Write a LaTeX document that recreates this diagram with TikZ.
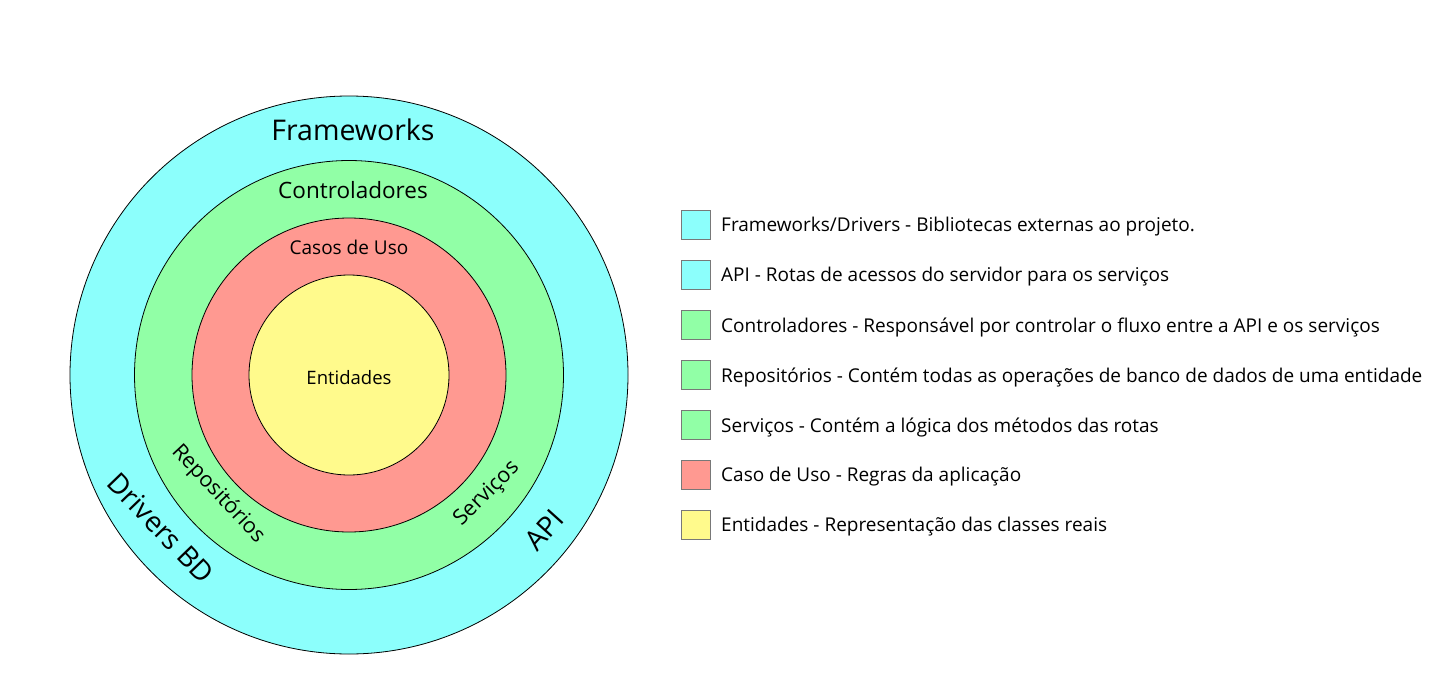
\documentclass[tikz,border=0pt]{standalone}
\usepackage{fontspec}
\setmainfont{Open Sans}
\definecolor{ccyan}{RGB}{140,255,252}
\definecolor{cgreen}{RGB}{145,255,166}
\definecolor{cred}{RGB}{255,153,145}
\definecolor{cyell}{RGB}{255,250,140}
\definecolor{cgray}{RGB}{120,120,120}
\tikzset{
  ring/.style={circle, draw=black, line width=0.8pt, inner sep=0pt},
  lbox/.style={draw=cgray, line width=1pt, minimum size=29pt, inner sep=0pt},
  ltext/.style={anchor=west, inner sep=0pt, font=\fontsize{19}{22}\selectfont},
  lab/.style={inner sep=0pt},
}
\begin{document}
\begin{tikzpicture}[x=1pt,y=1pt]
\useasboundingbox (0,0) rectangle (1440,-696);
\fill[white] (0,0) rectangle (1440,-696);
% rings
\node[ring, fill=ccyan, minimum size=558pt] (outer) at (349,-375) {};
\node[ring, fill=cgreen, minimum size=429pt] (green) at (349,-375) {};
\node[ring, fill=cred, minimum size=314pt] (red) at (349,-375) {};
\node[ring, fill=cyell, minimum size=200pt] (yell) at (349,-375) {};
% ring labels
\node[lab, font=\fontsize{28.5}{32}\selectfont] (fw) at (353,-130) {Frameworks};
\node[lab, font=\fontsize{22.5}{26}\selectfont] (ctl) at (353,-190) {Controladores};
\node[lab, font=\fontsize{19}{22}\selectfont] (cu) at (349,-247) {Casos de Uso};
\node[lab, font=\fontsize{18.5}{21}\selectfont] (ent) at (349,-378) {Entidades};
\node[lab, font=\fontsize{28}{32}\selectfont, rotate=-46] (drv) at (161,-528) {Drivers BD};
\node[lab, font=\fontsize{28}{32}\selectfont, rotate=48] (api) at (544,-530) {API};
\node[lab, font=\fontsize{21.5}{24}\selectfont, rotate=-47] (rep) at (218,-494) {Repositórios};
\node[lab, font=\fontsize{21.5}{24}\selectfont, rotate=45] (srv) at (487,-494) {Serviços};
% legend
\node[lbox, fill=ccyan] (b1) at (695.5,-224.5) {};
\node[lbox, fill=ccyan] (b2) at (695.5,-274.5) {};
\node[lbox, fill=cgreen] (b3) at (695.5,-324.5) {};
\node[lbox, fill=cgreen] (b4) at (695.5,-374.5) {};
\node[lbox, fill=cgreen] (b5) at (695.5,-424.5) {};
\node[lbox, fill=cred] (b6) at (695.5,-474.5) {};
\node[lbox, fill=cyell] (b7) at (695.5,-524.5) {};
\node[ltext] (t1) at (721,-227) {Frameworks/Drivers - Bibliotecas externas ao projeto.};
\node[ltext] (t2) at (721,-277) {API - Rotas de acessos do servidor para os serviços};
\node[ltext] (t3) at (721,-327) {Controladores - Responsável por controlar o fluxo entre a API e os serviços};
\node[ltext] (t4) at (721,-377) {Repositórios - Contém todas as operações de banco de dados de uma entidade};
\node[ltext] (t5) at (721,-427) {Serviços - Contém a lógica dos métodos das rotas};
\node[ltext] (t6) at (721,-477) {Caso de Uso - Regras da aplicação};
\node[ltext] (t7) at (721,-527) {Entidades - Representação das classes reais};
\end{tikzpicture}
\end{document}
